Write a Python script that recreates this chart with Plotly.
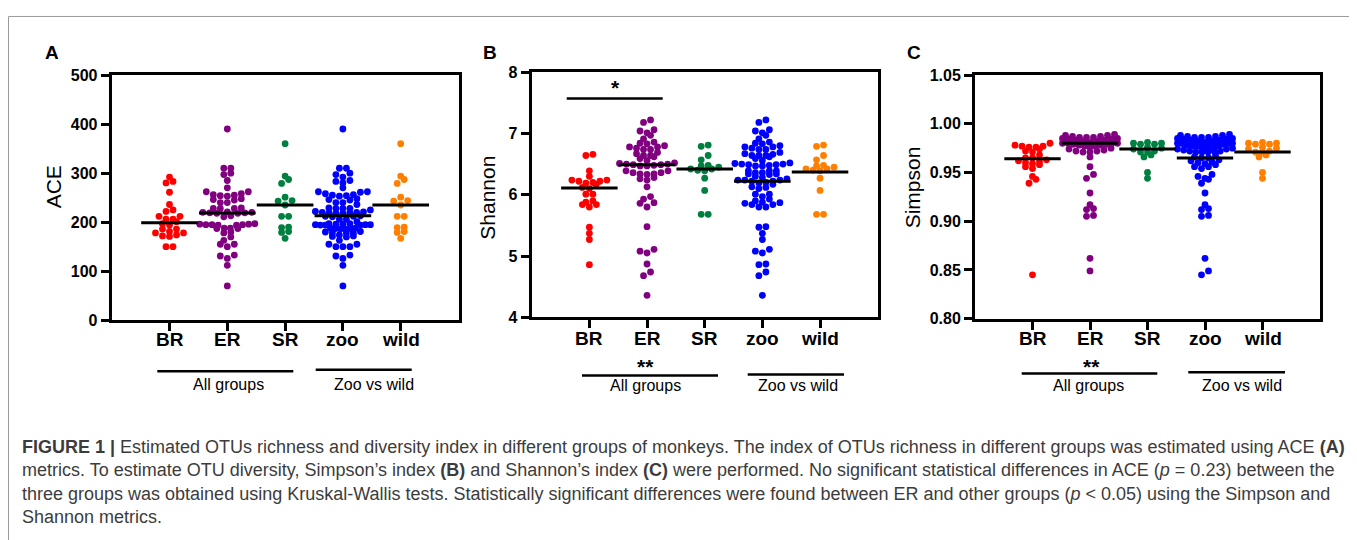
import numpy as np
import plotly.graph_objects as go

# ---------------- data ----------------
groups = ["BR", "ER", "SR", "zoo", "wild"]
colors = ["#ff0000", "#800080", "#008040", "#0000ff", "#ff8000"]

br_ace = [292, 283, 280, 261, 236, 225, 222, 212, 212, 206, 206, 201,
          197, 194, 186, 186, 181, 178, 178, 174, 172, 171, 150, 150]
er_ace = [390, 310, 310, 300, 297, 285, 270, 262, 262, 258, 256, 255, 254, 253,
          248, 246, 245, 240, 240, 229, 228, 228, 228, 221, 220, 220, 219, 219,
          218, 218, 213, 211, 197, 196, 196, 195, 195, 195, 194, 194, 188, 188,
          187, 187, 180, 178, 170, 163, 155, 155, 150, 133, 131, 126, 112, 70]
sr_ace = [360, 294, 287, 279, 251, 244, 243, 235, 212, 212, 190, 189, 181, 179, 167]

br_shannon = [6.66, 6.64, 6.39, 6.30, 6.24, 6.24, 6.22, 6.22, 6.20, 6.19, 6.17, 6.12,
              6.10, 6.01, 6.01, 5.90, 5.88, 5.84, 5.84, 5.80, 5.47, 5.37, 5.27, 4.86]
er_shannon = [7.22, 7.18, 7.06, 7.04, 7.01, 6.97, 6.91, 6.86, 6.84, 6.83, 6.80, 6.78,
              6.78, 6.76, 6.74, 6.74, 6.69, 6.67, 6.64, 6.64, 6.62, 6.59, 6.56, 6.52,
              6.51, 6.50, 6.50, 6.49, 6.49, 6.48, 6.47, 6.47, 6.39, 6.39, 6.36, 6.36,
              6.34, 6.34, 6.33, 6.28, 6.26, 6.24, 6.13, 5.97, 5.93, 5.87, 5.86, 5.80,
              5.48, 5.11, 5.08, 5.05, 4.87, 4.74, 4.68, 4.36]
sr_shannon = [6.81, 6.79, 6.64, 6.57, 6.48, 6.45, 6.42, 6.39, 6.40, 6.42, 6.47,
              6.27, 6.07, 5.68, 5.68]

br_simpson = [0.980, 0.978, 0.977, 0.977, 0.976, 0.976, 0.974, 0.972, 0.971, 0.968,
              0.965, 0.965, 0.963, 0.962, 0.961, 0.960, 0.959, 0.958, 0.956, 0.954,
              0.946, 0.943, 0.939, 0.845]
er_simpson = [0.989, 0.988, 0.988, 0.987, 0.987, 0.986, 0.986, 0.986, 0.985, 0.985,
              0.985, 0.985, 0.984, 0.984, 0.984, 0.984, 0.983, 0.983, 0.983, 0.983,
              0.982, 0.982, 0.982, 0.982, 0.981, 0.981, 0.980, 0.980, 0.980, 0.980,
              0.979, 0.979, 0.978, 0.978, 0.977, 0.977, 0.976, 0.975, 0.974, 0.973,
              0.972, 0.972, 0.971, 0.971, 0.966, 0.956, 0.948, 0.944, 0.929, 0.917,
              0.913, 0.912, 0.906, 0.905, 0.862, 0.849]
sr_simpson = [0.981, 0.980, 0.980, 0.979, 0.979, 0.976, 0.975, 0.974, 0.972, 0.971,
              0.971, 0.968, 0.966, 0.950, 0.944]

ace_ticks = [0, 100, 200, 300, 400, 500]
shannon_ticks = [4, 5, 6, 7, 8]
simpson_ticks = [0.80, 0.85, 0.90, 0.95, 1.00, 1.05]

# ---------------- layout geometry (page pixels) ----------------
PAGE_OFF = 8                      # default body margin of the html page
W, H = 1357 - PAGE_OFF, 540 - PAGE_OFF
FONT = "Arial, Liberation Sans, Helvetica, sans-serif"


def X(px):
    return (px - PAGE_OFF) / W


def Y(py):
    return 1 - (py - PAGE_OFF) / H


panels = [
    dict(letter="A", title="ACE", x0=111.7, x1=458.5, y0=69.0, y1=322.3,
         ticks=ace_ticks, fmt="d", sets=(br_ace, er_ace, sr_ace),
         title_xy=(53, 185), letter_xy=(52, 46), cat_y=342.5,
         all_line=(157.3, 293.3, 375.0), zoo_line=(315.7, 411.7, 373.5),
         all_text=(228, 388.5), zoo_text=(373.7, 388.5), stars=None),
    dict(letter="B", title="Shannon", x0=531.7, x1=877.7, y0=66.0, y1=319.3,
         ticks=shannon_ticks, fmt="d", sets=(br_shannon, er_shannon, sr_shannon),
         title_xy=(488, 195.7), letter_xy=(490, 46), cat_y=341.5,
         all_line=(582.0, 718.0, 379.3), zoo_line=(747.7, 844.0, 378.3),
         all_text=(645.7, 390), zoo_text=(797.7, 390), stars=(645, 365)),
    dict(letter="C", title="Simpson", x0=975.0, x1=1320.0, y0=69.0, y1=320.7,
         ticks=simpson_ticks, fmt=".2f", sets=(br_simpson, er_simpson, sr_simpson),
         title_xy=(912, 185), letter_xy=(914, 46), cat_y=341.5,
         all_line=(1021.7, 1157.3, 377.3), zoo_line=(1188.3, 1285.0, 376.0),
         all_text=(1088, 390), zoo_text=(1241.7, 390), stars=(1091.7, 365)),
]

XR = (-1, 5)


def swarm(values, units_per_px_y, px_per_unit_x, dot=7.0, row=4.6, half_max=27.5):
    v = np.asarray(values, float)
    order = np.argsort(v, kind="stable")
    row_h = row * units_per_px_y
    rows, cur, start = [], [], None
    for i in order:
        if cur and v[i] - start < row_h:
            cur.append(i)
        else:
            if cur:
                rows.append(cur)
            cur, start = [i], v[i]
    rows.append(cur)
    off = np.zeros(len(v))
    for r in rows:
        n = len(r)
        sp = dot if n < 2 else min(dot, 2 * half_max / (n - 1))
        slots = (np.arange(n) - (n - 1) / 2) * sp
        rank = sorted(range(n), key=lambda k: (abs(slots[k]), slots[k]))
        for j, k in enumerate(rank):
            off[r[j]] = slots[k]
    return off / px_per_unit_x


fig = go.Figure()
shapes, annotations = [], []

for p_i, p in enumerate(panels):
    sfx = "" if p_i == 0 else str(p_i + 1)
    xa, ya = "x" + sfx, "y" + sfx
    br, er, sr = p["sets"]
    data = [list(br), list(er), list(sr), list(br) + list(er), list(sr)]
    yr = (p["ticks"][0], p["ticks"][-1])
    upy = (yr[1] - yr[0]) / (p["y1"] - p["y0"])
    ppx = (p["x1"] - p["x0"]) / (XR[1] - XR[0])
    for g, vals in enumerate(data):
        off = swarm(vals, upy, ppx)
        fig.add_trace(go.Scatter(
            x=g + off, y=vals, mode="markers", xaxis=xa, yaxis=ya,
            marker=dict(size=6.8, color=colors[g], line=dict(width=0)),
            showlegend=False, hoverinfo="y", name=groups[g]))
    for g, vals in enumerate(data):
        c = float(np.median(vals)) if g < 3 else float(np.mean(vals))
        fig.add_trace(go.Scatter(
            x=[g - 0.49, g + 0.49], y=[c, c], mode="lines", xaxis=xa, yaxis=ya,
            line=dict(color="black", width=3), showlegend=False, hoverinfo="skip"))

    axis_common = dict(showline=True, linewidth=3, linecolor="black", mirror=True,
                       ticks="outside", ticklen=8, tickwidth=3, tickcolor="black",
                       showgrid=False, zeroline=False, fixedrange=True)
    fig.layout["xaxis" + sfx] = dict(
        axis_common, domain=[X(p["x0"]), X(p["x1"])], range=list(XR),
        tickvals=list(range(len(groups))), showticklabels=False, anchor=ya)
    fig.layout["yaxis" + sfx] = dict(
        axis_common, domain=[Y(p["y1"]), Y(p["y0"])], range=list(yr),
        tickvals=p["ticks"], tickformat=p["fmt"], anchor=xa,
        tickfont=dict(family=FONT, size=16, color="black", weight="bold"))

    # category labels
    for g, name in enumerate(groups):
        annotations.append(dict(x=g, y=Y(p["cat_y"]), xref=xa, yref="paper",
                                text="<b>%s</b>" % name, showarrow=False,
                                font=dict(family=FONT, size=19, color="black"),
                                xanchor="center", yanchor="middle"))
    annotations.append(dict(x=X(p["title_xy"][0]), y=Y(p["title_xy"][1]), xref="paper",
                            yref="paper", text=p["title"], textangle=-90, showarrow=False,
                            font=dict(family=FONT, size=21, color="black"),
                            xanchor="center", yanchor="middle"))
    annotations.append(dict(x=X(p["letter_xy"][0]), y=Y(p["letter_xy"][1]), xref="paper",
                            yref="paper", text="<b>%s</b>" % p["letter"], showarrow=False,
                            font=dict(family=FONT, size=19, color="black"),
                            xanchor="center", yanchor="middle"))
    for (ax0, ax1, ay), (tx, ty), lab in ((p["all_line"], p["all_text"], "All groups"),
                                          (p["zoo_line"], p["zoo_text"], "Zoo vs wild")):
        shapes.append(dict(type="line", xref="paper", yref="paper", x0=X(ax0), x1=X(ax1),
                           y0=Y(ay), y1=Y(ay), line=dict(color="black", width=2.5)))
        annotations.append(dict(x=X(tx), y=Y(ty), xref="paper", yref="paper", text=lab,
                                showarrow=False, font=dict(family=FONT, size=16, color="black"),
                                xanchor="center", yanchor="middle"))
    if p["stars"]:
        annotations.append(dict(x=X(p["stars"][0]), y=Y(p["stars"][1] + 5), xref="paper",
                                yref="paper", text="<b>**</b>", showarrow=False,
                                font=dict(family=FONT, size=21, color="black"),
                                xanchor="center", yanchor="middle"))

# significance bar in panel B
shapes.append(dict(type="line", xref="paper", yref="paper", x0=X(566.7), x1=X(662.7),
                   y0=Y(93.3), y1=Y(93.3), line=dict(color="black", width=2.5)))
annotations.append(dict(x=X(615), y=Y(82), xref="paper", yref="paper", text="<b>*</b>",
                        showarrow=False, font=dict(family=FONT, size=21, color="black"),
                        xanchor="center", yanchor="middle"))

# outer frame
shapes.append(dict(type="rect", xref="paper", yref="paper", x0=X(8.5), x1=X(1349.5),
                   y0=Y(600), y1=Y(8.5), line=dict(color="#9a9a9a", width=1),
                   fillcolor="rgba(0,0,0,0)", layer="below"))

caption = ("<b>FIGURE 1 |</b> Estimated OTUs richness and diversity index in different groups of "
           "monkeys. The index of OTUs richness in different groups was estimated using ACE <b>(A)</b><br>"
           "metrics. To estimate OTU diversity, Simpson’s index <b>(B)</b> and Shannon’s index "
           "<b>(C)</b> were performed. No significant statistical differences in ACE (<i>p</i> = 0.23) "
           "between the<br>"
           "three groups was obtained using Kruskal-Wallis tests. Statistically significant differences "
           "were found between ER and other groups (<i>p</i> &lt; 0.05) using the Simpson and<br>"
           "Shannon metrics.")
annotations.append(dict(x=X(20), y=Y(441), xref="paper", yref="paper", text=caption,
                        showarrow=False, align="left", xanchor="left", yanchor="top",
                        font=dict(family=FONT, size=18, color="#3c3c3c")))

fig.update_layout(width=W, height=H, margin=dict(l=0, r=0, t=0, b=0),
                  paper_bgcolor="white", plot_bgcolor="white",
                  shapes=shapes, annotations=annotations, showlegend=False)

fig.write_html("out.html")
